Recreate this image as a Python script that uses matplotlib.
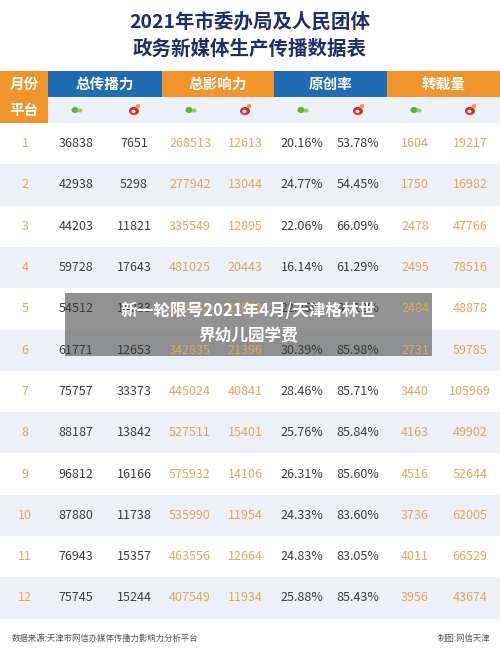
import matplotlib.pyplot as plt
from matplotlib.patches import Rectangle, Ellipse

plt.rcParams['font.family'] = ['Noto Sans CJK SC', 'DejaVu Sans']

months = [str(i) for i in range(1, 13)]
spread_wx = [36838, 42938, 44203, 59728, 54512, 61771, 75757, 88187, 96812, 87880, 76943, 75745]
spread_wb = [7651, 5298, 11821, 17643, 14233, 12653, 33373, 13842, 16166, 11738, 15357, 15244]
infl_wx = [268513, 277942, 335549, 481025, 398765, 342835, 445024, 527511, 575932, 535990, 463556, 407549]
infl_wb = [12613, 13044, 12895, 20443, 17652, 21396, 40841, 15401, 14106, 11954, 12664, 11934]
orig_wx = ['20.16%', '24.77%', '22.06%', '16.14%', '22.35%', '30.39%', '28.46%', '25.76%', '26.31%', '24.33%', '24.83%', '25.88%']
orig_wb = ['53.78%', '54.45%', '66.09%', '61.29%', '84.12%', '85.98%', '85.71%', '85.84%', '85.60%', '83.60%', '83.05%', '85.43%']
repost_wx = [1604, 1750, 2478, 2495, 2484, 2731, 3440, 4163, 4516, 3736, 4011, 3956]
repost_wb = [19217, 16982, 47766, 78516, 48878, 59785, 105969, 49902, 52644, 62005, 66529, 43674]

groups = ['总传播力', '总影响力', '原创率', '转载量']

ORANGE = '#f0952b'
BLUE = '#1f6cb4'
NUM_ORANGE = '#e3a757'
DARK = '#3d3d3d'
BAND = '#edf1f7'

fig = plt.figure(figsize=(5, 6.49), dpi=100)
ax = fig.add_axes([0, 0, 1, 1])
ax.set_xlim(0, 500)
ax.set_ylim(649, 0)
ax.axis('off')

# title
ax.text(250, 22, '2021年市委办局及人民团体', ha='center', va='center', fontsize=14,
        fontweight='bold', color='#1b2f6d')
ax.text(250, 49, '政务新媒体生产传播数据表', ha='center', va='center', fontsize=14,
        fontweight='bold', color='#1b2f6d')

# header
edges = [48, 162, 274, 387, 500]
ax.add_patch(Rectangle((0, 71), 48, 52, color=ORANGE, lw=0))
ax.text(24, 84, '月份', ha='center', va='center', fontsize=10.5, color='white', fontweight='bold')
ax.text(24, 110, '平台', ha='center', va='center', fontsize=10.5, color='white', fontweight='bold')
for i, g in enumerate(groups):
    c = BLUE if i % 2 == 0 else ORANGE
    ax.add_patch(Rectangle((edges[i], 71), edges[i + 1] - edges[i], 26, color=c, lw=0))
    ax.text((edges[i] + edges[i + 1]) / 2, 84, g, ha='center', va='center', fontsize=10.5,
            color='white', fontweight='bold')
ax.add_patch(Rectangle((48, 97), 452, 26, color=BAND, lw=0))

subx = [76, 134, 190, 245, 302, 358, 415, 470]
for k, x in enumerate(subx):
    if k % 2 == 0:
        ax.add_patch(Ellipse((x - 1, 110), 7, 6, color='#5cb531', lw=0))
        ax.add_patch(Ellipse((x + 4, 110.5), 5, 4, color='#8ccf5a', lw=0))
    else:
        ax.add_patch(Ellipse((x, 111), 10, 8, color='#e0262c', lw=0))
        ax.add_patch(Ellipse((x - 0.5, 111.5), 4, 3.5, color='white', lw=0))
        ax.add_patch(Ellipse((x + 4, 106), 4, 4, color='#f39a1e', lw=0))

# rows
row_top = 123
row_h = 41.3
cols = [spread_wx, spread_wb, infl_wx, infl_wb, orig_wx, orig_wb, repost_wx, repost_wb]
col_colors = [DARK, DARK, NUM_ORANGE, NUM_ORANGE, DARK, DARK, NUM_ORANGE, NUM_ORANGE]
for r, m in enumerate(months):
    y0 = row_top + r * row_h
    yc = y0 + row_h / 2
    if r % 2 == 1:
        ax.add_patch(Rectangle((0, y0), 500, row_h, color=BAND, lw=0))
    ax.text(25, yc, m, ha='center', va='center', fontsize=9, color=NUM_ORANGE)
    for k, x in enumerate(subx):
        ax.text(x, yc, str(cols[k][r]), ha='center', va='center', fontsize=9,
                color=col_colors[k])

# footer
ax.text(12, 638, '数据来源:天津市网信办媒体传播力影响力分析平台', ha='left', va='center',
        fontsize=6, color='#555555')
ax.text(490, 638, '制图:网信天津', ha='right', va='center', fontsize=6, color='#555555')

# overlay caption
ax.add_patch(Rectangle((65, 293), 367, 63, color='#6e6e6e', alpha=0.75, lw=0))
ax.text(248, 311, '新一轮限号2021年4月/天津格林世', ha='center', va='center', fontsize=12,
        fontweight='bold', color='white')
ax.text(248, 336, '界幼儿园学费', ha='center', va='center', fontsize=12,
        fontweight='bold', color='white')

fig.savefig('out.png', dpi=100)
